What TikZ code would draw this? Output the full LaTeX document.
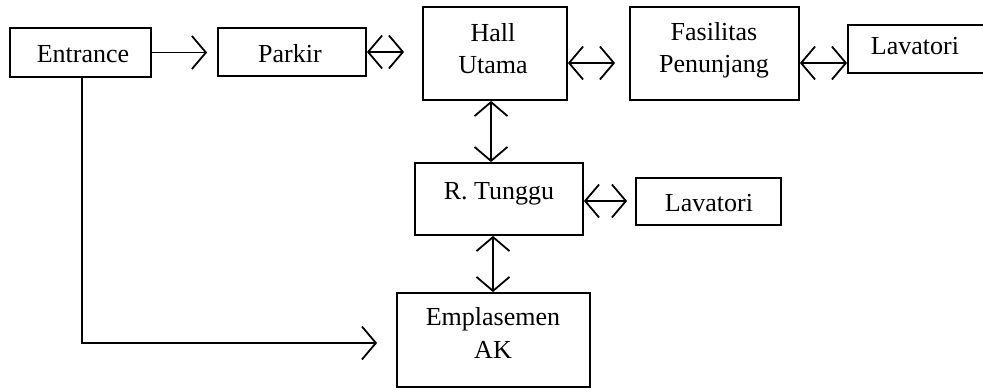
\documentclass[tikz,border=0pt]{standalone}
\usepackage{fontspec}
\setmainfont{Liberation Serif}
\usetikzlibrary{arrows.meta}
\begin{document}
\begin{tikzpicture}[x=1pt,y=-1pt,
  >={Straight Barb[length=14pt,width=33pt]},
  line width=1.8pt,
  box/.style={draw,rectangle,inner sep=0pt},
  lbl/.style={anchor=base,inner sep=0pt,font=\fontsize{26}{31}\selectfont},
  link/.style={<->},
  oneway/.style={->}]
\useasboundingbox[fill=white] (0,0) rectangle (983,390);

% rooms
\node[box,minimum width=141pt,minimum height=49pt] (entrance) at (80.5,52.5) {};
\node[box,minimum width=148pt,minimum height=48pt] (parkir) at (292,52) {};
\node[box,minimum width=144pt,minimum height=93pt] (hall) at (495,53.5) {};
\node[box,minimum width=169pt,minimum height=93pt] (fasilitas) at (714.5,53.5) {};
\node[box,minimum width=142pt,minimum height=48pt] (lavA) at (919,49) {};
\node[box,minimum width=168pt,minimum height=72pt] (tunggu) at (499,199) {};
\node[box,minimum width=145pt,minimum height=47pt] (lavB) at (708.5,201.5) {};
\node[box,minimum width=193pt,minimum height=94pt] (empl) at (493.5,340) {};

% labels
\node[lbl] (tEntrance) at (83,63) {Entrance};
\node[lbl] (tParkir) at (290,63) {Parkir};
\node[lbl] (tHall1) at (493,42) {Hall};
\node[lbl] (tHall2) at (493,74) {Utama};
\node[lbl] (tFas1) at (714,41) {Fasilitas};
\node[lbl] (tFas2) at (714,73) {Penunjang};
\node[lbl] (tLavA) at (915,55) {Lavatori};
\node[lbl] (tTunggu) at (499,200) {R. Tunggu};
\node[lbl] (tLavB) at (709,212) {Lavatori};
\node[lbl] (tEmpl1) at (493,325) {Emplasemen};
\node[lbl] (tEmpl2) at (493,358) {AK};

% circulation
\draw[oneway,shorten >=10pt] (entrance.east) -- (entrance.east -| parkir.west);
\draw[link,shorten >=18pt] (parkir.east) -- (parkir.east -| hall.west);
\draw[link,shorten >=14pt] ([yshift=-9.5pt]hall.east) -- ([yshift=-9.5pt]hall.east -| fasilitas.west);
\draw[link] ([yshift=-9.5pt]fasilitas.east) -- ([yshift=-9.5pt]fasilitas.east -| lavA.west);
\draw[link] ([xshift=-4pt]hall.south) -- ([xshift=-4pt]hall.south |- tunggu.north);
\draw[link,shorten >=8pt] ([yshift=-2pt]tunggu.east) -- ([yshift=-2pt]tunggu.east -| lavB.west);
\draw[link] ([xshift=-6pt]tunggu.south) -- ([xshift=-6pt]tunggu.south |- empl.north);
\coordinate (turn) at (82,343);
\draw[oneway,shorten >=19pt] (82,77) -- (turn) -- (turn -| empl.west);
\end{tikzpicture}
\end{document}
